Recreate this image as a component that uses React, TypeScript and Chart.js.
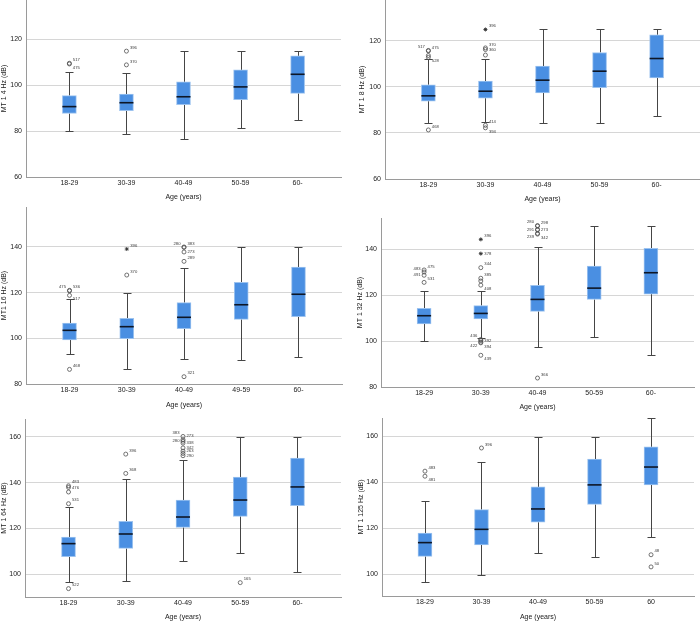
import React, { useEffect, useRef } from 'react';
import { Chart, registerables } from 'chart.js';

Chart.register(...registerables);

// ---------- categories ----------
const ageGroups = ['18-29', '30-39', '40-49', '50-59', '60-'];
const ageGroups16 = ['18-29', '30-39', '40-49', '49-59', '60-'];
const ageGroups125 = ['18-29', '30-39', '40-49', '50-59', '60'];

// outlier tuple: [group index, value, case id, label side, extreme?]
type Outlier = [number, number, string, string, boolean?];

// ---------- MT 1 4 Hz ----------
const hz4Min = [79.9, 78.7, 76.4, 81.3, 84.8];
const hz4Q1 = [87.7, 88.9, 91.5, 93.7, 96.5];
const hz4Med = [90.7, 92.4, 95.0, 99.3, 104.8];
const hz4Q3 = [95.5, 96.2, 101.5, 106.7, 112.8];
const hz4Max = [105.8, 105.5, 114.9, 114.9, 114.9];
const hz4Out: Outlier[] = [
  [0, 109.6, '517', 'ur'], [0, 109.3, '475', 'dr'],
  [1, 114.9, '396', 'ur'], [1, 108.9, '370', 'ur'],
];
const hz4Ticks = [60, 80, 100, 120];

// ---------- MT 1 8 Hz ----------
const hz8Min = [84.1, 84.9, 84.2, 84.5, 87.5];
const hz8Q1 = [93.8, 95.1, 97.4, 99.6, 103.9];
const hz8Med = [96.1, 98.1, 102.9, 106.8, 112.3];
const hz8Q3 = [100.9, 102.5, 109.0, 114.9, 122.6];
const hz8Max = [111.9, 111.9, 124.9, 124.9, 124.9];
const hz8Out: Outlier[] = [
  [0, 115.8, '517', 'ul'], [0, 115.6, '475', 'ur'], [0, 113.6, '', ''], [0, 112.8, '528', 'dr'],
  [0, 81.3, '468', 'ur'],
  [1, 124.9, '396', 'ur', true], [1, 116.9, '370', 'ur'], [1, 116.2, '360', 'r'], [1, 113.8, '', ''],
  [1, 83.3, '414', 'ur'], [1, 82.2, '394', 'dr'],
];
const hz8Ticks = [60, 80, 100, 120];

// ---------- MT1 16 Hz ----------
const hz16Min = [93.3, 86.7, 90.8, 90.4, 91.7];
const hz16Q1 = [99.3, 99.9, 104.2, 108.3, 109.5];
const hz16Med = [103.5, 105.1, 109.2, 114.7, 119.3];
const hz16Q3 = [106.7, 108.8, 115.6, 124.5, 131.2];
const hz16Max = [117.1, 120.0, 130.7, 139.9, 139.9];
const hz16Out: Outlier[] = [
  [0, 121.0, '475', 'ul'], [0, 120.8, '536', 'ur'], [0, 118.8, '517', 'dr'], [0, 86.4, '468', 'ur'],
  [1, 139.1, '396', 'ur', true], [1, 127.7, '370', 'ur'],
  [2, 140.0, '280', 'ul'], [2, 139.8, '383', 'ur'], [2, 137.8, '273', 'r'], [2, 133.7, '289', 'ur'],
  [2, 83.2, '321', 'ur'],
];
const hz16Ticks = [80, 100, 120, 140];

// ---------- MT 1 32 Hz ----------
const hz32Min = [99.9, 101.3, 97.4, 101.7, 93.9];
const hz32Q1 = [107.4, 109.6, 112.9, 118.1, 120.4];
const hz32Med = [111.0, 112.0, 118.1, 123.0, 129.7];
const hz32Q3 = [114.2, 115.4, 124.2, 132.6, 140.3];
const hz32Max = [121.6, 121.6, 140.7, 149.9, 149.9];
const hz32Out: Outlier[] = [
  [0, 130.9, '475', 'ur'], [0, 130.0, '483', 'ul'], [0, 128.6, '491', 'l'], [0, 125.5, '531', 'ur'],
  [1, 144.2, '396', 'ur', true], [1, 138.0, '378', 'r', true], [1, 131.9, '344', 'ur'],
  [1, 127.3, '385', 'ur'], [1, 126.1, '', ''], [1, 124.3, '408', 'dr'],
  [1, 100.7, '436', 'ul'], [1, 100.2, '392', 'r'], [1, 99.5, '422', 'dl'], [1, 99.2, '394', 'dr'],
  [1, 93.8, '439', 'dr'],
  [2, 150.2, '280', 'ul'], [2, 150.0, '298', 'ur'], [2, 148.5, '291', 'l'], [2, 148.3, '273', 'r'],
  [2, 146.8, '239', 'dl'], [2, 146.5, '342', 'dr'], [2, 83.9, '366', 'ur'],
];
const hz32Ticks = [80, 100, 120, 140];

// ---------- MT 1 64 Hz ----------
const hz64Min = [96.7, 97.1, 105.8, 109.2, 101.2];
const hz64Q1 = [107.7, 111.3, 120.5, 125.3, 129.9];
const hz64Med = [113.4, 117.6, 125.0, 132.4, 138.1];
const hz64Q3 = [116.3, 123.1, 132.4, 142.4, 150.7];
const hz64Max = [129.5, 141.4, 149.8, 160.0, 160.0];
const hz64Out: Outlier[] = [
  [0, 138.6, '483', 'ur'], [0, 137.9, '476', 'r'], [0, 135.9, '', ''], [0, 130.8, '531', 'ur'],
  [0, 93.8, '522', 'ur'],
  [1, 152.4, '396', 'ur'], [1, 144.0, '368', 'ur'],
  [2, 160.1, '383', 'ul'], [2, 158.7, '273', 'ur'], [2, 158.0, '280', 'l'], [2, 157.2, '338', 'r'],
  [2, 155.1, '342', 'r'], [2, 153.7, '263', 'r'], [2, 152.7, '', ''], [2, 151.7, '290', 'r'],
  [3, 96.4, '165', 'ur'],
];
const hz64Ticks = [100, 120, 140, 160];

// ---------- MT 1 125 Hz ----------
const hz125Min = [96.5, 99.6, 109.0, 107.3, 116.2];
const hz125Q1 = [107.7, 112.7, 122.6, 130.4, 138.9];
const hz125Med = [113.7, 119.5, 128.4, 138.9, 146.7];
const hz125Q3 = [117.9, 128.1, 138.0, 150.2, 155.5];
const hz125Max = [131.7, 148.9, 160.0, 160.0, 167.9];
const hz125Out: Outlier[] = [
  [0, 144.9, '483', 'ur'], [0, 142.7, '481', 'dr'],
  [1, 155.0, '396', 'ur'],
  [4, 108.4, '48', 'ur'], [4, 103.1, '50', 'ur'],
];
const hz125Ticks = [100, 120, 140, 160];

// ---------- styles ----------
const FONT = 'Liberation Sans, Arial, sans-serif';
const BOX_FILL = '#4A8FE2';
const BOX_EDGE = '#9DC3EF';
const WHISKER = '#454545';
const MEDIAN = '#0d1626';
const GRID = '#d6d6d6';
const AXIS = '#9a9a9a';
const TEXT = '#222222';

// geometry: cl = canvas left, cb = canvas bottom, ax = y-axis line x,
// pt/pb = plot top/bottom, pr = plot right (all page pixels)
type Geo = { cl: number; cb: number; ax: number; pt: number; pb: number; pr: number };
type PanelDef = {
  title: string; cats: string[]; min: number[]; q1: number[]; med: number[]; q3: number[]; max: number[];
  out: Outlier[]; ticks: number[]; yMin: number; yMax: number; geo: Geo;
};

const panels: PanelDef[] = [
  { title: 'MT 1 4 Hz (dB)', cats: ageGroups, min: hz4Min, q1: hz4Q1, med: hz4Med, q3: hz4Q3, max: hz4Max,
    out: hz4Out, ticks: hz4Ticks, yMin: 60, yMax: 137.2,
    geo: { cl: 0, cb: 201, ax: 26, pt: 0, pb: 177, pr: 341 } },
  { title: 'MT 1 8 Hz (dB)', cats: ageGroups, min: hz8Min, q1: hz8Q1, med: hz8Med, q3: hz8Q3, max: hz8Max,
    out: hz8Out, ticks: hz8Ticks, yMin: 60, yMax: 137.7,
    geo: { cl: 358, cb: 203, ax: 385, pt: 0, pb: 179, pr: 700 } },
  { title: 'MT1 16 Hz (dB)', cats: ageGroups16, min: hz16Min, q1: hz16Q1, med: hz16Med, q3: hz16Q3, max: hz16Max,
    out: hz16Out, ticks: hz16Ticks, yMin: 80, yMax: 157.5,
    geo: { cl: 0, cb: 409, ax: 26, pt: 207, pb: 384, pr: 342 } },
  { title: 'MT 1 32 Hz (dB)', cats: ageGroups, min: hz32Min, q1: hz32Q1, med: hz32Med, q3: hz32Q3, max: hz32Max,
    out: hz32Out, ticks: hz32Ticks, yMin: 80, yMax: 153.5,
    geo: { cl: 356, cb: 411, ax: 381, pt: 218, pb: 387, pr: 694 } },
  { title: 'MT 1 64 Hz (dB)', cats: ageGroups, min: hz64Min, q1: hz64Q1, med: hz64Med, q3: hz64Q3, max: hz64Max,
    out: hz64Out, ticks: hz64Ticks, yMin: 90.15, yMax: 167.7,
    geo: { cl: 0, cb: 621, ax: 25, pt: 419, pb: 597, pr: 341 } },
  { title: 'MT 1 125 Hz (dB)', cats: ageGroups125, min: hz125Min, q1: hz125Q1, med: hz125Med, q3: hz125Q3, max: hz125Max,
    out: hz125Out, ticks: hz125Ticks, yMin: 90.4, yMax: 168.1,
    geo: { cl: 357, cb: 621, ax: 382, pt: 418, pb: 596, pr: 694 } },
];

const BOX_W = 14;
const CAP_W = 8;
const EDGE_PAD = 6; // canvas margin beyond the plot area (top/right)

function zeroPadding(s: any) {
  s.paddingTop = 0;
  s.paddingBottom = 0;
  s.paddingLeft = 0;
  s.paddingRight = 0;
}

function makeBoxPlugin(p: PanelDef) {
  return {
    id: 'boxWhiskers',
    beforeDatasetsDraw(chart: any) {
      const { ctx, scales } = chart;
      const x = scales.x, y = scales.y;
      ctx.save();
      ctx.strokeStyle = WHISKER;
      ctx.lineWidth = 1;
      p.min.forEach((mn, i) => {
        const cx = Math.round(x.getPixelForValue(i)) + 0.5;
        const yMin = Math.round(y.getPixelForValue(mn)) + 0.5;
        const yMax = Math.round(y.getPixelForValue(p.max[i])) + 0.5;
        const yQ1 = y.getPixelForValue(p.q1[i]);
        const yQ3 = y.getPixelForValue(p.q3[i]);
        ctx.beginPath();
        ctx.moveTo(cx, yQ1); ctx.lineTo(cx, yMin);
        ctx.moveTo(cx, yQ3); ctx.lineTo(cx, yMax);
        ctx.moveTo(cx - CAP_W / 2, yMin); ctx.lineTo(cx + CAP_W / 2, yMin);
        ctx.moveTo(cx - CAP_W / 2, yMax); ctx.lineTo(cx + CAP_W / 2, yMax);
        ctx.stroke();
      });
      ctx.restore();
    },
    afterDatasetsDraw(chart: any) {
      const { ctx, scales } = chart;
      const x = scales.x, y = scales.y;
      ctx.save();
      ctx.strokeStyle = MEDIAN;
      ctx.lineWidth = 1.6;
      p.med.forEach((m, i) => {
        const cx = x.getPixelForValue(i);
        const my = y.getPixelForValue(m);
        ctx.beginPath();
        ctx.moveTo(cx - BOX_W / 2, my); ctx.lineTo(cx + BOX_W / 2, my);
        ctx.stroke();
      });
      ctx.fillStyle = '#3a3a3a';
      ctx.font = '4.2px ' + FONT;
      ctx.textBaseline = 'middle';
      p.out.forEach(([g, v, id, side]) => {
        if (!id) return;
        const px = x.getPixelForValue(g);
        const py = y.getPixelForValue(v);
        let dx = 3.5, dy = 0;
        if (side.includes('l')) dx = -3.5;
        if (side.startsWith('u')) dy = -3.5;
        if (side.startsWith('d')) dy = 3.5;
        ctx.textAlign = dx < 0 ? 'right' : 'left';
        ctx.fillText(id, px + dx, py + dy);
      });
      ctx.restore();
    },
  };
}

function Panel({ p }: { p: PanelDef }) {
  const ref = useRef<HTMLCanvasElement>(null);
  const g = p.geo;
  const ct = Math.min(g.pt - EDGE_PAD, g.pt - 4);
  const w = g.pr + EDGE_PAD - g.cl;
  const h = g.cb - ct;
  useEffect(() => {
    if (!ref.current) return;
    const circles = p.out.filter((o) => !o[4]).map((o) => ({ x: o[0], y: o[1] }));
    const stars = p.out.filter((o) => o[4]).map((o) => ({ x: o[0], y: o[1] }));
    const chart = new Chart(ref.current, {
      type: 'bar',
      data: {
        datasets: [
          {
            type: 'bar',
            data: p.q1.map((q, i) => ({ x: i, y: [q, p.q3[i]] })) as any,
            backgroundColor: BOX_FILL,
            borderColor: BOX_EDGE,
            borderWidth: 1,
            borderSkipped: false,
            barThickness: BOX_W,
            grouped: false,
          } as any,
          {
            type: 'scatter',
            data: circles,
            pointStyle: 'circle',
            pointRadius: 2,
            borderWidth: 0.8,
            borderColor: '#505050',
            backgroundColor: 'rgba(255,255,255,0)',
          } as any,
          {
            type: 'scatter',
            data: stars,
            pointStyle: 'star',
            pointRadius: 2,
            borderWidth: 0.9,
            borderColor: '#303030',
            backgroundColor: '#303030',
          } as any,
        ],
      },
      options: {
        animation: false,
        responsive: false,
        devicePixelRatio: 1,
        events: [],
        layout: { padding: { top: g.pt - ct, left: 0, right: EDGE_PAD, bottom: 0 } },
        plugins: { legend: { display: false }, tooltip: { enabled: false } },
        scales: {
          x: {
            type: 'linear',
            min: -0.76,
            max: 4.76,
            offset: false,
            afterBuildTicks: (s: any) => { s.ticks = p.cats.map((_, i) => ({ value: i })); },
            afterFit: (s: any) => { s.height = g.cb - g.pb; zeroPadding(s); },
            ticks: {
              callback: (v: any) => p.cats[Math.round(Number(v))] ?? '',
              font: { family: FONT, size: 7 },
              color: TEXT,
              padding: 2,
              maxRotation: 0,
              autoSkip: false,
            },
            grid: { display: false, drawTicks: false, offset: false },
            border: { display: true, color: AXIS, width: 1 },
            title: { display: true, text: 'Age (years)', font: { family: FONT, size: 7 }, color: TEXT, padding: 0 },
          } as any,
          y: {
            type: 'linear',
            min: p.yMin,
            max: p.yMax,
            afterBuildTicks: (s: any) => { s.ticks = p.ticks.map((v) => ({ value: v })); },
            afterFit: (s: any) => { s.width = g.ax - g.cl; zeroPadding(s); },
            ticks: { font: { family: FONT, size: 7 }, color: TEXT, padding: 4 },
            grid: { color: GRID, lineWidth: 1, drawTicks: false },
            border: { display: true, color: AXIS, width: 1 },
            title: { display: true, text: p.title, font: { family: FONT, size: 7 }, color: TEXT, padding: 0 },
          } as any,
        },
      },
      plugins: [makeBoxPlugin(p) as any],
    });
    return () => chart.destroy();
  }, []);
  return (
    <canvas
      ref={ref}
      width={w}
      height={h}
      style={{ position: 'absolute', left: g.cl, top: ct, width: w, height: h }}
    />
  );
}

export default function App() {
  return (
    <div style={{ position: 'absolute', left: 0, top: 0, width: 700, height: 621, overflow: 'hidden', background: '#ffffff' }}>
      {panels.map((p, i) => (
        <Panel key={i} p={p} />
      ))}
    </div>
  );
}
